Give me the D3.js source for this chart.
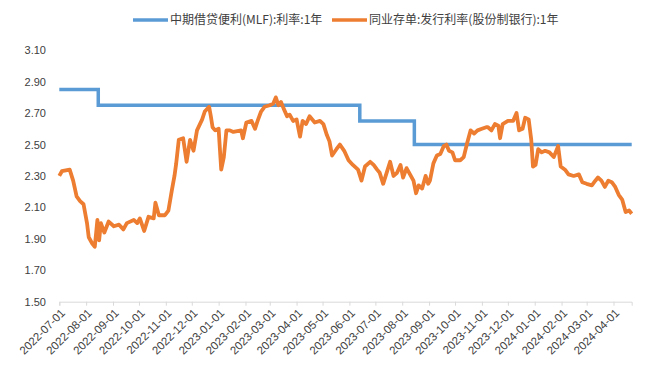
<!DOCTYPE html>
<html>
<head>
<meta charset="utf-8">
<script src="https://cdn.jsdelivr.net/npm/d3@7"></script>
<style>
  body { margin: 0; background: #fff; }
  svg { font-family: "Noto Sans CJK SC", "Noto Sans", sans-serif; }
  .axis text { fill: #404040; }
</style>
</head>
<body>
<script>
//series names
var seriesNames = ["中期借贷便利(MLF):利率:1年", "同业存单:发行利率(股份制银行):1年"];

//MLF rate, a step series
var mlfDates = ["2022-07-01", "2022-08-15", "2023-06-13", "2023-08-15", "2024-04-22"];
var mlfValues = [2.85, 2.75, 2.65, 2.50, 2.50];

//NCD issue rate
var ncdDates = ["2022-07-01","2022-07-04","2022-07-13","2022-07-17","2022-07-21","2022-07-25","2022-07-29",
  "2022-08-02","2022-08-04","2022-08-08","2022-08-11","2022-08-14","2022-08-16","2022-08-18","2022-08-22","2022-08-27",
  "2022-09-02","2022-09-08","2022-09-13","2022-09-17","2022-09-25","2022-09-29",
  "2022-10-02","2022-10-07","2022-10-12","2022-10-18","2022-10-20","2022-10-24","2022-10-31",
  "2022-11-04","2022-11-08","2022-11-11","2022-11-13","2022-11-16","2022-11-21","2022-11-25","2022-11-29",
  "2022-12-03","2022-12-07","2022-12-13","2022-12-16","2022-12-21","2022-12-23","2022-12-25","2022-12-28",
  "2023-01-01","2023-01-02","2023-01-04","2023-01-07","2023-01-10","2023-01-14","2023-01-18","2023-01-27","2023-01-29",
  "2023-02-02","2023-02-08","2023-02-12","2023-02-15","2023-02-19","2023-02-23",
  "2023-03-01","2023-03-05","2023-03-08","2023-03-11","2023-03-14","2023-03-17","2023-03-21","2023-03-24","2023-03-28",
  "2023-04-01","2023-04-05","2023-04-08","2023-04-12","2023-04-16","2023-04-22","2023-04-28",
  "2023-05-02","2023-05-06","2023-05-09","2023-05-12","2023-05-17","2023-05-21","2023-05-26","2023-05-31",
  "2023-06-05","2023-06-11","2023-06-15","2023-06-19","2023-06-25","2023-06-29",
  "2023-07-03","2023-07-06","2023-07-10","2023-07-14","2023-07-18","2023-07-22","2023-07-26","2023-07-30",
  "2023-08-02","2023-08-06","2023-08-10","2023-08-14","2023-08-17","2023-08-20","2023-08-24","2023-08-28","2023-08-31",
  "2023-09-02","2023-09-06","2023-09-10","2023-09-14","2023-09-18","2023-09-21","2023-09-24","2023-09-28",
  "2023-10-01","2023-10-07","2023-10-11","2023-10-15","2023-10-19","2023-10-23","2023-10-27",
  "2023-11-01","2023-11-06","2023-11-08","2023-11-12","2023-11-16","2023-11-20","2023-11-22","2023-11-25",
  "2023-12-01","2023-12-07","2023-12-11","2023-12-14","2023-12-18","2023-12-21","2023-12-25","2023-12-28","2023-12-30",
  "2024-01-02","2024-01-05","2024-01-09","2024-01-13","2024-01-18","2024-01-23","2024-01-28","2024-01-31",
  "2024-02-05","2024-02-09","2024-02-15","2024-02-21","2024-02-25",
  "2024-03-01","2024-03-07","2024-03-11","2024-03-14","2024-03-18","2024-03-22","2024-03-26","2024-03-30",
  "2024-04-03","2024-04-07","2024-04-11","2024-04-15","2024-04-19","2024-04-22"];
var ncdValues = [2.30,2.33,2.34,2.27,2.17,2.14,2.12,
  2.00,1.91,1.87,1.85,2.02,1.89,2.00,1.94,2.01,
  1.98,1.99,1.96,2.00,2.02,2.00,
  2.03,1.95,2.04,2.03,2.13,2.05,2.05,
  2.08,2.21,2.30,2.38,2.53,2.54,2.39,2.53,
  2.46,2.59,2.66,2.71,2.74,2.68,2.61,2.59,
  2.60,2.51,2.34,2.42,2.59,2.59,2.58,2.59,2.54,
  2.64,2.65,2.60,2.65,2.71,2.74,
  2.75,2.76,2.80,2.75,2.77,2.73,2.68,2.69,2.65,
  2.66,2.55,2.65,2.63,2.68,2.64,2.65,
  2.63,2.56,2.52,2.43,2.47,2.50,2.46,2.40,
  2.37,2.34,2.27,2.36,2.39,2.37,
  2.34,2.32,2.25,2.32,2.39,2.30,2.32,2.37,
  2.29,2.35,2.31,2.27,2.19,2.24,2.22,2.30,2.25,
  2.27,2.38,2.43,2.44,2.49,2.50,2.46,2.45,
  2.40,2.40,2.42,2.51,2.59,2.57,2.59,
  2.60,2.61,2.61,2.59,2.63,2.62,2.54,2.63,
  2.65,2.65,2.70,2.59,2.60,2.67,2.66,2.53,2.36,
  2.37,2.47,2.45,2.46,2.45,2.42,2.49,2.36,
  2.34,2.31,2.30,2.31,2.26,
  2.25,2.24,2.27,2.29,2.27,2.23,2.27,2.26,
  2.23,2.18,2.15,2.07,2.08,2.06];

//axis labels
var yTicks = [1.50, 1.70, 1.90, 2.10, 2.30, 2.50, 2.70, 2.90, 3.10];
var xTickDates = ["2022-07-01","2022-08-01","2022-09-01","2022-10-01","2022-11-01","2022-12-01",
  "2023-01-01","2023-02-01","2023-03-01","2023-04-01","2023-05-01","2023-06-01","2023-07-01",
  "2023-08-01","2023-09-01","2023-10-01","2023-11-01","2023-12-01","2024-01-01","2024-02-01",
  "2024-03-01","2024-04-01"];

var colors = ["#5b9bd5", "#ed7d31"];

drawChart();

function drawChart(){
    var width = 655,
        height = 367;

    var parse = d3.timeParse("%Y-%m-%d");

    var svg = d3.select("body")
        .append("svg")
        .attr("width", width)
        .attr("height", height);

    var x = d3.scaleTime()
        .domain([parse("2022-07-01"), parse("2024-04-22")])
        .range([59.3, 631.7]);

    var y = d3.scaleLinear()
        .domain([1.5, 3.1])
        .range([301.7, 50.2]);

    //y axis, labels only
    var yAxis = svg.append("g")
        .attr("class", "axis")
        .attr("transform", "translate(59,0)")
        .call(d3.axisLeft(y).tickValues(yTicks).tickFormat(d3.format(".2f")).tickSize(0).tickPadding(13));
    yAxis.select(".domain").remove();
    yAxis.selectAll("text").style("font-size", "11px");

    //x axis with rotated date labels
    var xAxis = svg.append("g")
        .attr("class", "axis")
        .attr("transform", "translate(0," + y(1.5) + ")")
        .call(d3.axisBottom(x)
            .tickValues(xTickDates.map(parse))
            .tickFormat(d3.timeFormat("%Y-%m-%d"))
            .tickSizeOuter(0)
            .tickSize(4));
    xAxis.select(".domain").attr("stroke", "#d9d9d9");
    xAxis.selectAll(".tick line").attr("stroke", "#d9d9d9");
    xAxis.selectAll("text")
        .style("font-size", "11.5px")
        .attr("text-anchor", "end")
        .attr("dy", null)
        .attr("y", 0)
        .attr("transform", "translate(6,12) rotate(-45)");

    //MLF step line
    var mlf = mlfDates.map(function(d, i){ return [parse(d), mlfValues[i]]; });
    svg.append("path")
        .datum(mlf)
        .attr("fill", "none")
        .attr("stroke", colors[0])
        .attr("stroke-width", 3.5)
        .attr("d", d3.line()
            .x(function(d){ return x(d[0]); })
            .y(function(d){ return y(d[1]); })
            .curve(d3.curveStepAfter));

    //NCD line
    var ncd = ncdDates.map(function(d, i){ return [parse(d), ncdValues[i]]; });
    svg.append("path")
        .datum(ncd)
        .attr("fill", "none")
        .attr("stroke", colors[1])
        .attr("stroke-width", 3.8)
        .attr("stroke-linejoin", "round")
        .attr("d", d3.line()
            .x(function(d){ return x(d[0]); })
            .y(function(d){ return y(d[1]); }));

    //legend at top
    var legendX = [133, 332];
    var legend = svg.selectAll(".legend")
        .data(seriesNames)
        .enter()
        .append("g")
        .attr("class", "legend")
        .attr("transform", function(d, i){ return "translate(" + legendX[i] + ",20)"; });
    legend.append("line")
        .attr("x1", 0).attr("x2", 35)
        .attr("stroke", function(d, i){ return colors[i]; })
        .attr("stroke-width", 3.5);
    legend.append("text")
        .attr("x", 37)
        .attr("dy", "0.35em")
        .style("font-size", "12px")
        .attr("fill", "#404040")
        .text(function(d){ return d; });
}
</script>
</body>
</html>
